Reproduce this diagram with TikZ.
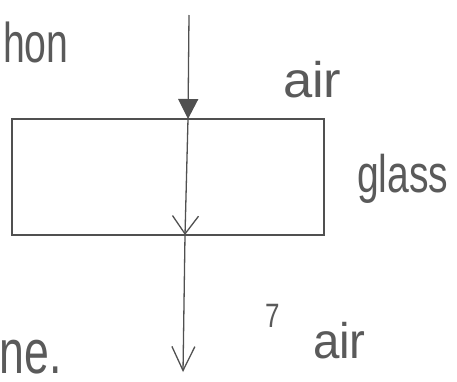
\documentclass[tikz,border=0pt]{standalone}
\usepackage{fontspec}
\setmainfont{Liberation Sans}
\usetikzlibrary{arrows.meta}
\definecolor{ink}{HTML}{505050}
\definecolor{pen}{HTML}{5A5A5A}
\tikzset{
  line/.style={draw=ink, line width=1.3pt},
  hand/.style={text=pen, inner sep=0pt, outer sep=0pt},
  glassbox/.style={draw=ink, line width=1.3pt, minimum width=312pt, minimum height=116pt, inner sep=0pt}
}
\begin{document}
\begin{tikzpicture}[x=1pt,y=-1pt]
\useasboundingbox (0,0) rectangle (457,381);
\node[glassbox] (box) at (168,177) {};
\coordinate (src) at (189,15);
\coordinate (hit) at (188,119);
\coordinate (exit) at (185,235);
\coordinate (end) at (183,372);
\draw[line, -{Triangle[length=20pt,width=20pt]}] (src) -- (hit);
\draw[line, -{Straight Barb[length=18pt,width=26pt,line width=1.3pt]}] (hit) -- (exit);
\draw[line, -{Straight Barb[length=24pt,width=23pt,line width=1.3pt]}] (exit) -- (end);
\node[hand, anchor=base west] (t1) at (3,62) {\scalebox{0.7}[1]{\fontsize{56}{60}\selectfont hon}};
\node[hand, anchor=base west] (t2) at (283,97) {\scalebox{1.05}[1]{\fontsize{50}{54}\selectfont air}};
\node[hand, anchor=base west] (t3) at (357,192) {\scalebox{0.85}[1.15]{\fontsize{46}{50}\selectfont glass}};
\node[hand, anchor=base west] (t4) at (265,327) {\scalebox{1}[1.3]{\fontsize{26}{30}\selectfont 7}};
\node[hand, anchor=base west] (t5) at (313,358) {\scalebox{0.95}[1]{\fontsize{50}{54}\selectfont air}};
\node[hand, anchor=base east] (t6) at (62,373) {\scalebox{0.72}[1]{\fontsize{62}{66}\selectfont ne.}};
\end{tikzpicture}
\end{document}
